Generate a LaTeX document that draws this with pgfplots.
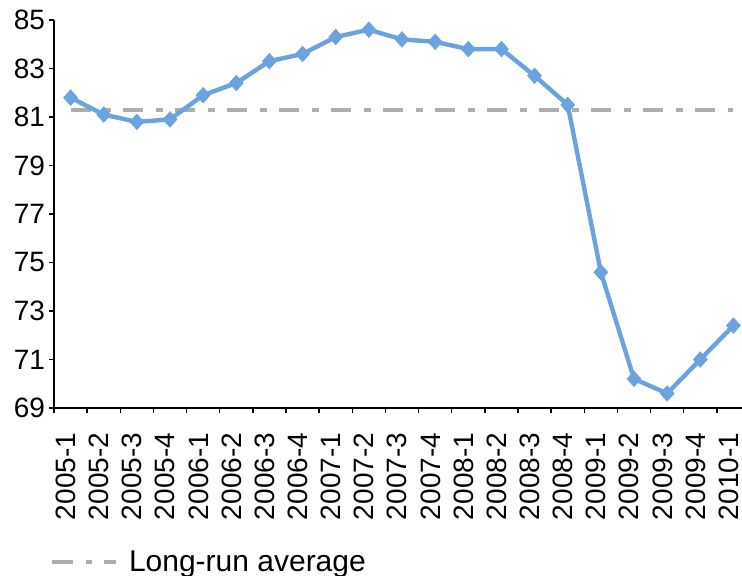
\documentclass[border=0pt]{standalone}
\usepackage{fontspec}
\setmainfont{Liberation Sans}
\usepackage{pgfplots}
\pgfplotsset{compat=1.18}
\definecolor{serblue}{HTML}{6AA3DF}
\definecolor{avggray}{HTML}{ADADAD}

\begin{document}
\begin{tikzpicture}
  \path[use as bounding box] (-40.5pt,-125.25pt) rectangle (516pt,306pt);
  \begin{axis}[
      at={(0,0)}, anchor=south west,
      scale only axis, width=522pt, height=291pt,
      xmin=-0.5, xmax=20.5,
      ymin=69, ymax=85,
      axis lines=left,
      axis line style={-, line width=2pt, black},
      xtick={0,...,20},
      xticklabels={2005-1,2005-2,2005-3,2005-4,2006-1,2006-2,2006-3,2006-4,
        2007-1,2007-2,2007-3,2007-4,2008-1,2008-2,2008-3,2008-4,
        2009-1,2009-2,2009-3,2009-4,2010-1},
      minor xtick={-0.5,0.5,...,20.5},
      ytick={69,71,...,85},
      tick align=outside,
      major tick length=3.5pt,
      minor tick length=4pt,
      major x tick style={draw=none},
      tick style={black, line width=1pt},
      xticklabel style={rotate=90, anchor=east, inner sep=0pt, yshift=3.5pt},
      xticklabel shift=15pt,
      yticklabel style={inner sep=0pt},
      yticklabel shift=3pt,
      /pgf/number format/assume math mode=true,
      tick label style={font=\fontsize{21}{24}\selectfont},
      legend style={at={(axis description cs:-0.006,-0.397)}, anchor=west,
        draw=none, fill=none, inner sep=0pt,
        font=\fontsize{22.5}{26}\selectfont},
      legend image code/.code={\draw[#1] (0pt,0pt) -- (48pt,0pt); \path (54pt,0pt);},
      legend cell align=left,
    ]
    % long-run average
    \addplot[avggray, line width=3.2pt, dash pattern=on 15.5pt off 9.5pt on 5pt off 9pt] coordinates {
      (0,81.3)(20,81.3)
    };
    \addlegendentry{Long-run average}

    % quarterly series
    \addplot[serblue, line width=3.3pt, mark=diamond*, mark size=5.8pt,
      mark options={solid, xscale=1.2, fill=serblue, draw=serblue, line width=0.5pt}, forget plot] coordinates {
      (0,81.8)(1,81.1)(2,80.8)(3,80.9)(4,81.9)(5,82.4)(6,83.3)(7,83.6)
      (8,84.3)(9,84.6)(10,84.2)(11,84.1)(12,83.8)(13,83.8)(14,82.7)(15,81.5)
      (16,74.6)(17,70.2)(18,69.6)(19,71.0)(20,72.4)
    };
  \end{axis}
\end{tikzpicture}
\end{document}
